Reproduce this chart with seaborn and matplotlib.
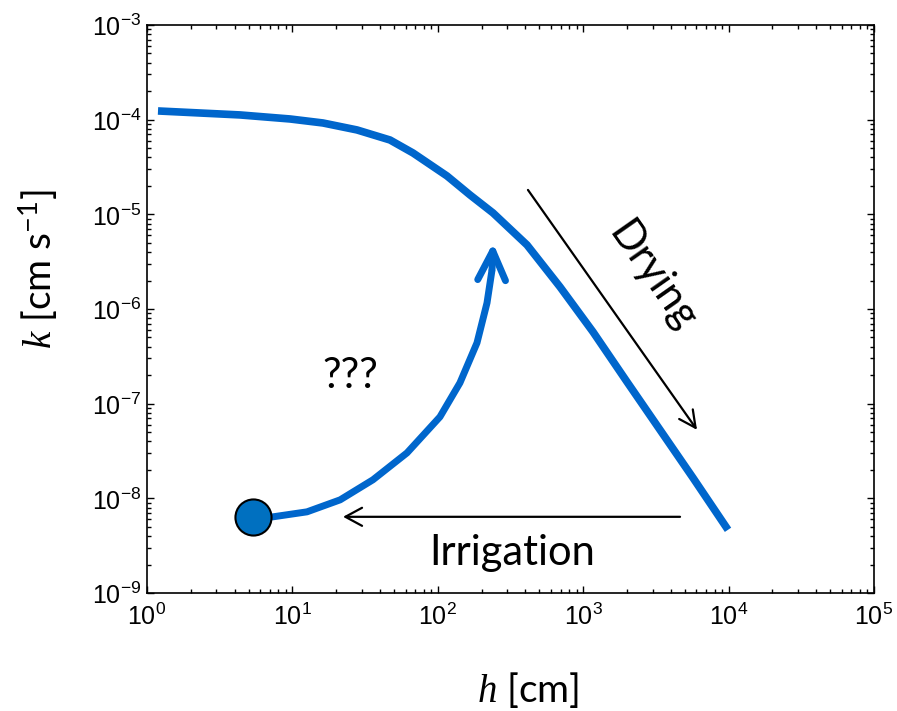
import numpy as np
import pandas as pd
import matplotlib
matplotlib.use("Agg")
import matplotlib.pyplot as plt
import seaborn as sns
from matplotlib.ticker import LogLocator, FuncFormatter, NullFormatter

# ---- data ----
h_curve = [1.19, 4.36, 9.63, 16.2, 27.8, 46.9, 67.5, 115.7, 166.5, 239.7, 410.7, 692.6,
           1168, 2001, 3375, 5691, 9906]
k_curve = [1.236e-4, 1.122e-4, 1.017e-4, 9.23e-5, 7.79e-5, 6.10e-5, 4.45e-5, 2.543e-5,
           1.603e-5, 1.035e-5, 4.75e-6, 1.712e-6, 5.73e-7, 1.70e-7, 5.29e-8, 1.646e-8, 4.65e-9]

h_path = [5.36, 7.36, 12.6, 21.3, 35.8, 61.4, 103.5, 142, 186, 218, 236, 240]
k_path = [6.38e-9, 6.38e-9, 7.20e-9, 9.64e-9, 1.57e-8, 3.02e-8, 7.26e-8, 1.66e-7,
          4.39e-7, 1.16e-6, 2.59e-6, 4.99e-6]

start_h, start_k = 5.36, 6.38e-9
drying_from, drying_to = (417, 1.81e-5), (6064, 5.29e-8)
irr_from, irr_to = (4634, 6.38e-9), (22.3, 6.38e-9)

x_ticks = [1e0, 1e1, 1e2, 1e3, 1e4, 1e5]
y_ticks = [1e-9, 1e-8, 1e-7, 1e-6, 1e-5, 1e-4, 1e-3]

sns.set_style("ticks")
plt.rcParams["font.family"] = ["Lato", "DejaVu Sans"]
plt.rcParams["text.color"] = "black"
plt.rcParams["mathtext.fontset"] = "custom"
plt.rcParams["mathtext.rm"] = "Liberation Sans"
plt.rcParams["mathtext.it"] = "Liberation Serif:italic"

blue = "#0066CC"

fig = plt.figure(figsize=(8.97, 7.11), dpi=100)
ax = fig.add_axes([147/897, 1-593/711, (874-147)/897, (593-25)/711])

df_curve = pd.DataFrame({"h": h_curve, "k": k_curve})
df_path = pd.DataFrame({"h": h_path[:-1], "k": k_path[:-1]})
sns.lineplot(data=df_curve, x="h", y="k", ax=ax, color=blue, lw=5.5,
             solid_capstyle="butt", solid_joinstyle="round", sort=False)
sns.lineplot(data=df_path, x="h", y="k", ax=ax, color=blue, lw=5,
             solid_capstyle="butt", solid_joinstyle="round", sort=False)
ax.annotate("", xy=(h_path[-1], k_path[-1]), xytext=(h_path[-2], k_path[-2]),
            arrowprops=dict(arrowstyle="->,head_length=1.05,head_width=0.5",
                            mutation_scale=20, color=blue, lw=5, capstyle="round",
                            joinstyle="round", shrinkA=0, shrinkB=0))
ax.plot([start_h], [start_k], "o", ms=26, mfc="#0070C0", mec="black", mew=1.5, zorder=5)

ax.annotate("", xy=drying_to, xytext=drying_from,
            arrowprops=dict(arrowstyle="->,head_length=1.2,head_width=0.6",
                            mutation_scale=10, color="black", lw=1.6,
                            shrinkA=0, shrinkB=0))
ax.annotate("", xy=irr_to, xytext=irr_from,
            arrowprops=dict(arrowstyle="->,head_length=1.2,head_width=0.65",
                            mutation_scale=10, color="black", lw=1.6,
                            shrinkA=0, shrinkB=0))

ax.text(10**((512-147)/145.4), 10**(-3-(553-25)/94.7), "Irrigation", fontsize=30,
        ha="center", va="center", color="black")
ax.text(10**((350-147)/145.4), 10**(-3-(376-25)/94.7), "???", fontsize=30,
        ha="center", va="center", color="black")
ax.text(10**((652-147)/145.4), 10**(-3-(277-25)/94.7), "Drying", fontsize=30,
        ha="center", va="center", rotation=-55, rotation_mode="anchor", color="black")

ax.set_xscale("log")
ax.set_yscale("log")
ax.set_xlim(1, 1e5)
ax.set_ylim(1e-9, 1e-3)
ax.set_xlabel("")
ax.set_ylabel("")
ax.set_xticks(x_ticks)
ax.set_yticks(y_ticks)
fmt = FuncFormatter(lambda v, p: r"$\mathrm{10^{%d}}$" % int(round(np.log10(v))))
ax.xaxis.set_major_formatter(fmt)
ax.yaxis.set_major_formatter(fmt)
ax.xaxis.set_minor_locator(LogLocator(base=10, subs=np.arange(2, 10), numticks=20))
ax.yaxis.set_minor_locator(LogLocator(base=10, subs=np.arange(2, 10), numticks=20))
ax.xaxis.set_minor_formatter(NullFormatter())
ax.yaxis.set_minor_formatter(NullFormatter())
ax.tick_params(which="both", direction="in", top=True, right=True, labelsize=18,
               colors="black", labelcolor="black", width=1)
ax.tick_params(which="major", length=5)
ax.tick_params(axis="x", which="major", pad=7)
ax.tick_params(axis="y", which="major", pad=4)
ax.tick_params(which="minor", length=3)
for s in ax.spines.values():
    s.set_visible(True)
    s.set_color("black")
    s.set_linewidth(1.2)

fig.text(528/897, 1-690/711, r"$\mathit{h}$ [cm]", fontsize=28, ha="center",
         va="center", color="black")
fig.text(38/897, 1-269/711, r"$\mathit{k}$ [cm s$^{\mathregular{-1}}$]", fontsize=28,
         ha="center", va="center", rotation=90, color="black")

fig.savefig("out.png", dpi=100)
